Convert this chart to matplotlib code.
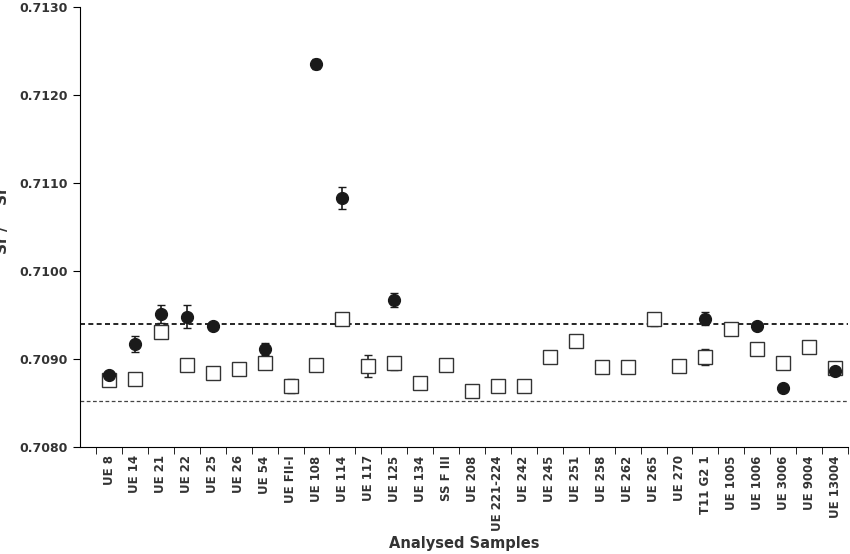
import matplotlib.pyplot as plt
import numpy as np

samples = ["UE 8", "UE 14", "UE 21", "UE 22", "UE 25", "UE 26", "UE 54", "UE FII-I",
           "UE 108", "UE 114", "UE 117", "UE 125", "UE 134", "SS F III", "UE 208",
           "UE 221-224", "UE 242", "UE 245", "UE 251", "UE 258", "UE 262", "UE 265",
           "UE 270", "T11 G2 1", "UE 1005", "UE 1006", "UE 3006", "UE 9004", "UE 13004"]

nan = np.nan
open_vals = [0.70876, 0.70877, 0.70931, 0.70893, 0.70884, 0.70889, 0.70895, 0.70869,
             0.70893, 0.70945, 0.70892, 0.70895, 0.70873, 0.70893, 0.70864,
             0.70869, 0.70869, 0.70902, 0.70920, 0.70891, 0.70891, 0.70945,
             0.70892, 0.70902, 0.70934, 0.70911, 0.70895, 0.70914, 0.70890]
open_err = [0.00002, 0.00002, 0.00002, 0.00002, 0.00002, 0.00004, 0.00003, 0.00008,
            0.00002, 0.00002, 0.00012, 0.00007, 0.00003, 0.00002, 0.00002,
            0.00003, 0.00004, 0.00005, 0.00004, 0.00004, 0.00003, 0.00007,
            0.00006, 0.00009, 0.00004, 0.00003, 0.00002, 0.00004, 0.00003]

filled_vals = [0.70882, 0.70917, 0.70951, 0.70948, 0.70937, nan, 0.70911, nan,
               0.71235, 0.71083, nan, 0.70967, nan, nan, nan,
               nan, nan, nan, nan, nan, nan, nan,
               nan, 0.70946, nan, 0.70937, 0.70867, nan, 0.70886]
filled_err = [0.00002, 0.00009, 0.00010, 0.00013, 0.00002, 0, 0.00007, 0,
              0.00006, 0.00012, 0, 0.00008, 0, 0, 0,
              0, 0, 0, 0, 0, 0, 0,
              0, 0.00007, 0, 0.00002, 0.00002, 0, 0.00002]

upper_line = 0.70940
lower_line = 0.70852

x = np.arange(len(samples))

fig = plt.figure(figsize=(8.5, 5.54), dpi=100)
ax = fig.add_axes([80/850, 1 - 447/554, 768/850, 440/554])

ax.axhline(upper_line, color="black", linestyle=(0, (3, 2)), linewidth=1.2)
ax.axhline(lower_line, color="#444444", linestyle=(0, (3, 2)), linewidth=0.9)

ax.errorbar(x, open_vals, yerr=open_err, fmt="s", mfc="white", mec="#333333",
            mew=1.0, ms=9.5, ecolor="#222222", elinewidth=1.2, capsize=3, zorder=3)
ax.errorbar(x, filled_vals, yerr=filled_err, fmt="o", mfc="#1a1a1a", mec="#1a1a1a",
            ms=8.5, ecolor="#1a1a1a", elinewidth=1.2, capsize=3, zorder=4)

ax.set_xlim(-1.12, len(samples) - 0.5)
ax.set_ylim(0.7080, 0.7130)
ax.set_yticks(np.arange(0.7080, 0.71301, 0.0010))
ax.set_yticklabels(["%.4f" % v for v in np.arange(0.7080, 0.71301, 0.0010)],
                   fontsize=9, fontweight="bold", color="#333333")
ax.set_xticks(x)
ax.set_xticklabels(samples, rotation=90, fontsize=8.5, fontweight="bold", color="#333333")
ax.set_xticks(np.arange(-0.5, len(samples), 1), minor=True)
ax.tick_params(axis="x", which="major", length=0, pad=6)
ax.tick_params(axis="x", which="minor", length=5)
ax.tick_params(axis="y", length=5)

for s in ["top", "right"]:
    ax.spines[s].set_visible(False)

ax.set_xlabel("Analysed Samples", fontsize=10.5, fontweight="bold", color="#333333", labelpad=4)
ax.set_ylabel(r"$\mathbf{^{87}Sr\ /\ ^{86}Sr}$", fontsize=11, color="#333333", labelpad=6)

fig.savefig("out.png", dpi=100)
